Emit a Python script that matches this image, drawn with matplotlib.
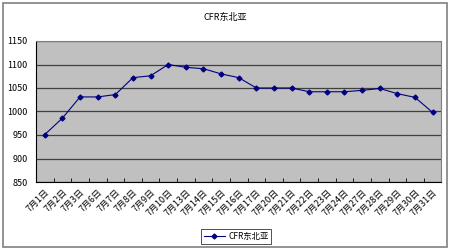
import matplotlib.pyplot as plt
from matplotlib.patches import Rectangle

plt.rcParams['font.family'] = ['Noto Sans CJK SC', 'DejaVu Sans']

dates = ["7月1日", "7月2日", "7月3日", "7月6日", "7月7日", "7月8日", "7月9日",
         "7月10日", "7月13日", "7月14日", "7月15日", "7月16日", "7月17日",
         "7月20日", "7月21日", "7月22日", "7月23日", "7月24日", "7月27日",
         "7月28日", "7月29日", "7月30日", "7月31日"]
prices = [951, 986, 1031, 1031, 1036, 1072, 1076, 1100, 1094, 1091, 1080, 1072,
          1050, 1050, 1050, 1042, 1042, 1042, 1045, 1049, 1038, 1030, 998]
series_name = "CFR东北亚"

fig = plt.figure(figsize=(4.5, 2.5), dpi=100)
fig.patches.append(Rectangle((0.007, 0.012), 0.986, 0.976, transform=fig.transFigure,
                             fill=False, edgecolor='#808080', linewidth=1.2))
ax = fig.add_axes([0.08, 0.272, 0.901, 0.564])

x = list(range(len(dates)))
line, = ax.plot(x, prices, color='#000080', linewidth=0.8, marker='D', markersize=2.5,
                label=series_name, zorder=3)

ax.set_facecolor('#c0c0c0')
ax.set_ylim(850, 1150)
ax.set_yticks(range(850, 1151, 50))
ax.set_xlim(-0.5, len(dates) - 0.5)
ax.yaxis.grid(True, color='#404040', linewidth=0.9)
ax.set_axisbelow(True)

# ticks at category boundaries, labels centred on points
ax.set_xticks([i - 0.5 for i in range(len(dates) + 1)])
ax.set_xticklabels([])
ax.set_xticks(x, minor=True)
ax.set_xticklabels(dates, minor=True, rotation=45, ha='right', rotation_mode='anchor', fontsize=6.5)
ax.tick_params(axis='x', which='minor', length=0, pad=4)
ax.tick_params(axis='x', which='major', length=3, width=0.6, direction='in')
ax.tick_params(axis='y', length=0, labelsize=6.5, pad=6)

for s in ['top', 'right']:
    ax.spines[s].set_color('#808080')
    ax.spines[s].set_linewidth(0.8)
for s in ['left', 'bottom']:
    ax.spines[s].set_color('black')
    ax.spines[s].set_linewidth(0.8)

fig.text(0.5, 0.93, series_name, ha='center', va='center', fontsize=6.5)

leg = fig.legend(handles=[line], loc='center', bbox_to_anchor=(0.525, 0.053), fontsize=6,
                 frameon=True, fancybox=False, edgecolor='black', handlelength=2.5,
                 borderpad=0.35, handletextpad=0.4)
leg.get_frame().set_linewidth(0.6)

fig.savefig('out.png', dpi=100)
